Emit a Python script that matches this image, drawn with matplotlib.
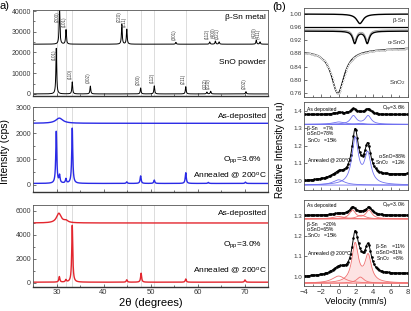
import numpy as np
import matplotlib
matplotlib.use("Agg")
import matplotlib.pyplot as plt
from matplotlib.ticker import MultipleLocator, FormatStrFormatter

plt.rcParams['font.family'] = ['Liberation Sans', 'DejaVu Sans']
plt.rcParams['mathtext.fontset'] = 'custom'
plt.rcParams['mathtext.rm'] = 'Liberation Sans'
plt.rcParams['mathtext.it'] = 'Liberation Sans:italic'
plt.rcParams['mathtext.bf'] = 'Liberation Sans:bold'

# ================= (a) XRD data =================
two_theta_range = [25, 75]
ref_lines = [30.0, 32.0, 33.35, 44.95, 47.9, 50.8, 57.5]

sn_base = 24000
sn_pos = [30.64, 32.02, 43.9, 44.95, 55.4, 62.6, 63.8, 64.6, 72.5, 73.3]
sn_int = [18000, 7000, 9500, 7200, 900, 1100, 1500, 1100, 1900, 1100]
sn_lbl = ['(200)', '(101)', '(220)', '(211)', '(301)', '(112)', '(400)', '(321)', '(420)', '(411)']

sno_base = 0
sno_pos = [29.95, 33.35, 37.2, 47.9, 50.8, 57.5, 62.0, 62.8, 70.3]
sno_int = [22000, 5800, 3800, 2900, 3900, 3500, 900, 1300, 1100]
sno_lbl = ['(101)', '(110)', '(002)', '(200)', '(112)', '(211)', '(022)', '(220)', '(202)']

blue_dep_base = 2380
blue_dep_pos = [30.6]
blue_dep_int = [200]
blue_dep_hw = [0.9]
blue_ann_base = 60
blue_ann_pos = [29.95, 30.65, 32.0, 33.35, 44.95, 47.9, 50.8, 57.5, 62.3, 70.2]
blue_ann_int = [2000, 290, 170, 2130, 60, 290, 130, 415, 40, 50]

red_dep_base = 5000
red_dep_pos = [30.5, 32.0]
red_dep_int = [800, 170]
red_dep_hw = [0.6, 0.5]
red_ann_base = 60
red_ann_pos = [30.6, 32.0, 33.35, 44.95, 48.0, 57.5, 70.1]
red_ann_int = [460, 190, 4740, 200, 750, 270, 190]

# ================= (b) Moessbauer data =================
vel_range = [-4, 8]
bsn_ref_base = 1.0
bsn_ref_c = [2.45]
bsn_ref_d = [0.029]
bsn_ref_w = [0.45]
flat_ref_level = 0.959
asno_ref_base = 0.948
asno_ref_c = [1.85, 3.3]
asno_ref_d = [0.037, 0.037]
asno_ref_w = [0.27, 0.27]
asno_ref2_base = 0.952
asno_ref2_d = [0.031, 0.031]
sno2_ref_base = [0.889, 0.897]
sno2_ref_c = [-0.1]
sno2_ref_d = [0.133]
sno2_ref_w = [0.9]

# Opp = 3.6 %
b_dep_base = 1.378
b_dep_c = [0.0, 1.7, 2.5, 3.4]
b_dep_h = [0.010, 0.030, 0.006, 0.030]
b_dep_w = [0.8, 0.42, 0.5, 0.42]
b_dep_fit_base = 1.322
b_dep_fit_h = [0.014, 0.048, 0.006, 0.048]
b_ann_bg = [1.0, 1.04]
b_ann_c = [0.0, 1.9, 3.35]
b_ann_h = [0.03, 0.26, 0.17]
b_ann_w = [0.8, 0.45, 0.45]
b_ann_fit_base = 0.977

# Opp = 3.0 %
r_dep_base = 1.302
r_dep_c = [0.0, 1.6, 2.6, 3.5]
r_dep_h = [0.008, 0.036, 0.010, 0.036]
r_dep_w = [0.8, 0.42, 0.6, 0.42]
r_dep_fit_base = 1.284
r_dep_fit_h = [0.012, 0.042, 0.018, 0.042]
r_ann_bg = [1.0, 1.015]
r_ann_c = [0.0, 1.9, 2.5, 3.4]
r_ann_h = [0.035, 0.19, 0.03, 0.13]
r_ann_w = [0.9, 0.45, 0.5, 0.45]
r_ann_fit_base = 0.968


def lor(x, c, h, w):
    return h / (1.0 + ((x - c) / w) ** 2)


def pattern(x, base, pos, ints, hws=None, hw=0.1):
    y = np.full_like(x, float(base))
    for i, (p, h) in enumerate(zip(pos, ints)):
        y += lor(x, p, h, hws[i] if hws is not None else hw)
    return y


BLUE = '#2a2ae6'
RED = '#e3262e'
SPINE = '#3a3a3a'

fig = plt.figure(figsize=(4.11, 3.11), dpi=100)
W, H = 411.0, 311.0


def axes_px(l, t, r, b):
    return fig.add_axes([l / W, 1 - b / H, (r - l) / W, (b - t) / H])


axA1 = axes_px(33, 10, 268, 96)
axA2 = axes_px(33, 106.7, 268, 192)
axA3 = axes_px(33, 205, 268, 286.5)
axB1 = axes_px(304, 8, 408, 97)
axB2 = axes_px(304, 101.7, 408, 190)
axB3 = axes_px(304, 200, 408, 286)

tt = np.linspace(two_theta_range[0], two_theta_range[1], 8001)

for ax in (axA1, axA2, axA3):
    ax.set_xlim(*two_theta_range)
    for xl in ref_lines:
        ax.axvline(xl, color='#cfcfcf', lw=0.5, zorder=0)
    ax.xaxis.set_major_locator(MultipleLocator(10))
    ax.xaxis.set_minor_locator(MultipleLocator(5))
    ax.tick_params(which='both', direction='in', width=0.5, colors=SPINE, labelsize=5, pad=1.5)
    ax.tick_params(which='major', length=2.2)
    ax.tick_params(which='minor', length=1.3)
    ax.tick_params(axis='x', labelbottom=False)
    for s in ax.spines.values():
        s.set_linewidth(0.6)
        s.set_color('#555555')
    ax.spines['bottom'].set_linewidth(1.0)
    ax.spines['bottom'].set_color('#333333')
axA3.tick_params(axis='x', labelbottom=True, labelsize=5.5, pad=2)

# ---- top XRD panel
axA1.plot(tt, pattern(tt, sn_base, sn_pos, sn_int), color='k', lw=0.7)
axA1.plot(tt, pattern(tt, sno_base, sno_pos, sno_int), color='k', lw=0.7)
axA1.set_ylim(-1000, 40500)
axA1.yaxis.set_major_locator(MultipleLocator(10000))
axA1.yaxis.set_minor_locator(MultipleLocator(5000))


def peak_labels(ax, base, pos, ints, lbls, cap, gap, length):
    for p, h, l in zip(pos, ints, lbls):
        y = base + h + gap
        if y + length > cap:
            ax.text(p - 0.45, cap, l, rotation=90, fontsize=3.3, color='#444444',
                    ha='center', va='top')
        else:
            ax.text(p - 0.45, y, l, rotation=90, fontsize=3.3, color='#444444',
                    ha='center', va='bottom')


peak_labels(axA1, sn_base, sn_pos, sn_int, sn_lbl, 40000, 1300, 6300)
peak_labels(axA1, sno_base, sno_pos, sno_int, sno_lbl, 21500, 1300, 6300)
axA1.text(0.99, 0.915, 'β-Sn metal', transform=axA1.transAxes, ha='right', va='center', fontsize=6)
axA1.text(0.99, 0.385, 'SnO powder', transform=axA1.transAxes, ha='right', va='center', fontsize=6)

# ---- middle XRD panel
axA2.plot(tt, pattern(tt, blue_dep_base, blue_dep_pos, blue_dep_int, hws=blue_dep_hw), color=BLUE, lw=1.0)
axA2.plot(tt, pattern(tt, blue_ann_base, blue_ann_pos, blue_ann_int, hw=0.13), color=BLUE, lw=1.0)
axA2.set_ylim(-270, 3020)
axA2.yaxis.set_major_locator(MultipleLocator(1000))
axA2.yaxis.set_minor_locator(MultipleLocator(500))
axA2.text(0.995, 0.88, 'As-deposited', transform=axA2.transAxes, ha='right', va='center', fontsize=6)
axA2.text(0.975, 0.375, 'O$_{\\rm pp}$=3.6%', transform=axA2.transAxes, ha='right', va='center', fontsize=6)
axA2.text(0.995, 0.19, 'Annealed @ 200$^{\\rm o}$C', transform=axA2.transAxes, ha='right', va='center', fontsize=6)

# ---- bottom XRD panel
axA3.plot(tt, pattern(tt, red_dep_base, red_dep_pos, red_dep_int, hws=red_dep_hw), color=RED, lw=1.0)
axA3.plot(tt, pattern(tt, red_ann_base, red_ann_pos, red_ann_int, hw=0.13), color=RED, lw=1.0)
axA3.set_ylim(-300, 6500)
axA3.yaxis.set_major_locator(MultipleLocator(2000))
axA3.yaxis.set_minor_locator(MultipleLocator(1000))
axA3.text(0.995, 0.89, 'As-deposited', transform=axA3.transAxes, ha='right', va='center', fontsize=6)
axA3.text(0.975, 0.51, 'O$_{\\rm pp}$=3.0%', transform=axA3.transAxes, ha='right', va='center', fontsize=6)
axA3.text(0.995, 0.19, 'Annealed @ 200$^{\\rm o}$C', transform=axA3.transAxes, ha='right', va='center', fontsize=6)
axA3.set_xlabel('2θ (degrees)', fontsize=8, labelpad=1)

fig.text(5 / W, 1 - 152 / H, 'Intensity (cps)', rotation=90, ha='center', va='center', fontsize=7.5)
fig.text(0 / W, 1 - 6 / H, 'a)', ha='left', va='center', fontsize=8)
fig.text(272 / W, 1 - 7 / H, '(b)', ha='left', va='center', fontsize=8)

# ================= (b) Moessbauer =================
vf = np.linspace(vel_range[0], vel_range[1], 1201)
vd = np.linspace(vel_range[0], vel_range[1], 241)

for ax in (axB1, axB2, axB3):
    ax.set_xlim(*vel_range)
    ax.xaxis.set_major_locator(MultipleLocator(2))
    ax.xaxis.set_minor_locator(MultipleLocator(1))
    ax.tick_params(which='both', direction='in', width=0.5, colors=SPINE, labelsize=4.5, pad=1.5)
    ax.tick_params(which='major', length=2.0)
    ax.tick_params(which='minor', length=1.2)
    ax.tick_params(axis='x', labelbottom=False)
    for s in ax.spines.values():
        s.set_linewidth(0.6)
        s.set_color('#555555')
axB3.tick_params(axis='x', labelbottom=True, labelsize=5.5, pad=2)


def dips(x, base, cs, ds, ws):
    y = np.full_like(x, float(base))
    for c, d, w in zip(cs, ds, ws):
        y -= lor(x, c, d, w)
    return y


def linbg(x, ends):
    return ends[0] + (ends[1] - ends[0]) * (x - x[0]) / (x[-1] - x[0])


def peaks(x, cs, hs, ws):
    y = np.zeros_like(x)
    for c, h, w in zip(cs, hs, ws):
        y += lor(x, c, h, w)
    return y


DATA_KW = dict(color='k', lw=0.7, marker='s', ms=0.8, markevery=3)

# top: reference absorbers
axB1.plot(vf, dips(vf, bsn_ref_base, bsn_ref_c, bsn_ref_d, bsn_ref_w), color='k', lw=1.0)
axB1.plot(vf, np.full_like(vf, flat_ref_level), color='k', lw=0.9)
axB1.plot(vf, dips(vf, asno_ref2_base, asno_ref_c, asno_ref2_d, asno_ref_w), color='#9a9a9a', lw=0.6)
axB1.plot(vf, dips(vf, asno_ref_base, asno_ref_c, asno_ref_d, asno_ref_w), color='k', lw=1.0)
sno2 = linbg(vf, sno2_ref_base) - peaks(vf, sno2_ref_c, sno2_ref_d, sno2_ref_w)
axB1.plot(vf, sno2, color='k', lw=0.8)
sno2d = linbg(vd, sno2_ref_base) - peaks(vd, sno2_ref_c, sno2_ref_d, sno2_ref_w)
axB1.plot(vd, sno2d, ls='none', marker='o', ms=1.0, mfc='white', mec='#888888', mew=0.25, markevery=2)
axB1.set_ylim(0.747, 1.0185)
axB1.yaxis.set_major_locator(MultipleLocator(0.04))
axB1.yaxis.set_major_formatter(FormatStrFormatter('%.2f'))
axB1.text(0.98, 0.865, 'β-Sn', transform=axB1.transAxes, ha='right', va='center', fontsize=4.5, color='#333333')
axB1.text(0.98, 0.61, 'α-SnO', transform=axB1.transAxes, ha='right', va='center', fontsize=4.5, color='#333333')
axB1.text(0.98, 0.16, 'SnO$_2$', transform=axB1.transAxes, ha='right', va='center', fontsize=4.5, color='#333333')

# middle: Opp = 3.6 %
LB = '#7070f0'
axB2.plot(vd, b_dep_base + peaks(vd, b_dep_c, b_dep_h, b_dep_w), **DATA_KW)
axB2.plot(vf, np.full_like(vf, b_dep_fit_base), color=LB, lw=0.6)
for i in (0, 2):
    axB2.plot(vf, b_dep_fit_base + lor(vf, b_dep_c[i], b_dep_fit_h[i], b_dep_w[i]), color=LB, lw=0.6)
axB2.plot(vf, b_dep_fit_base + lor(vf, b_dep_c[1], b_dep_fit_h[1], b_dep_w[1])
          + lor(vf, b_dep_c[3], b_dep_fit_h[3], b_dep_w[3]), color=LB, lw=0.6)
axB2.plot(vd, linbg(vd, b_ann_bg) + peaks(vd, b_ann_c, b_ann_h, b_ann_w), **DATA_KW)
axB2.plot(vf, np.full_like(vf, b_ann_fit_base), color=LB, lw=0.6)
axB2.plot(vf, b_ann_fit_base + lor(vf, b_ann_c[0], b_ann_h[0], b_ann_w[0]), color=LB, lw=0.6)
axB2.plot(vf, b_ann_fit_base + lor(vf, b_ann_c[1], b_ann_h[1], b_ann_w[1])
          + lor(vf, b_ann_c[2], b_ann_h[2], b_ann_w[2]), color=LB, lw=0.6)
axB2.set_ylim(0.949, 1.451)
axB2.yaxis.set_major_locator(MultipleLocator(0.1))
axB2.yaxis.set_major_formatter(FormatStrFormatter('%.1f'))
fs = 3.6
axB2.text(0.03, 0.917, 'As deposited', transform=axB2.transAxes, ha='left', va='center', fontsize=fs)
axB2.text(0.98, 0.917, 'O$_{\\rm pp}$=3.6%', transform=axB2.transAxes, ha='right', va='center', fontsize=fs)
axB2.text(0.03, 0.70, 'β-Sn    =7%', transform=axB2.transAxes, ha='left', va='center', fontsize=fs)
axB2.text(0.03, 0.635, 'α-SnO=78%', transform=axB2.transAxes, ha='left', va='center', fontsize=fs)
axB2.text(0.03, 0.565, 'SnO$_2$   =15%', transform=axB2.transAxes, ha='left', va='center', fontsize=fs)
axB2.text(0.03, 0.33, 'Annealed @ 200$^{\\rm o}$C', transform=axB2.transAxes, ha='left', va='center', fontsize=fs)
axB2.text(0.98, 0.385, 'α-SnO=88%', transform=axB2.transAxes, ha='right', va='center', fontsize=fs)
axB2.text(0.98, 0.315, 'SnO$_2$   =12%', transform=axB2.transAxes, ha='right', va='center', fontsize=fs)

# bottom: Opp = 3.0 %
LR = '#f07070'
axB3.plot(vd, r_dep_base + peaks(vd, r_dep_c, r_dep_h, r_dep_w), **DATA_KW)
axB3.plot(vf, np.full_like(vf, r_dep_fit_base), color=LR, lw=0.6)
for i in (0, 2):
    axB3.plot(vf, r_dep_fit_base + lor(vf, r_dep_c[i], r_dep_fit_h[i], r_dep_w[i]), color=LR, lw=0.6)
axB3.plot(vf, r_dep_fit_base + lor(vf, r_dep_c[1], r_dep_fit_h[1], r_dep_w[1])
          + lor(vf, r_dep_c[3], r_dep_fit_h[3], r_dep_w[3]), color=LR, lw=0.6)
axB3.plot(vd, linbg(vd, r_ann_bg) + peaks(vd, r_ann_c, r_ann_h, r_ann_w), **DATA_KW)
axB3.plot(vf, np.full_like(vf, r_ann_fit_base), color=LR, lw=0.6)
for i in (0, 2):
    axB3.plot(vf, r_ann_fit_base + lor(vf, r_ann_c[i], r_ann_h[i], r_ann_w[i]), color=LR, lw=0.6)
dbl = r_ann_fit_base + lor(vf, r_ann_c[1], r_ann_h[1], r_ann_w[1]) + lor(vf, r_ann_c[3], r_ann_h[3], r_ann_w[3])
axB3.fill_between(vf, r_ann_fit_base, dbl, color='#fde3e3', lw=0, zorder=0)
axB3.plot(vf, dbl, color=LR, lw=0.6)
axB3.set_ylim(0.954, 1.377)
axB3.yaxis.set_major_locator(MultipleLocator(0.1))
axB3.yaxis.set_major_formatter(FormatStrFormatter('%.1f'))
axB3.text(0.03, 0.936, 'As deposited', transform=axB3.transAxes, ha='left', va='center', fontsize=fs)
axB3.text(0.98, 0.936, 'O$_{\\rm pp}$=3.0%', transform=axB3.transAxes, ha='right', va='center', fontsize=fs)
axB3.text(0.03, 0.72, 'β-Sn    =20%', transform=axB3.transAxes, ha='left', va='center', fontsize=fs)
axB3.text(0.03, 0.655, 'α-SnO=65%', transform=axB3.transAxes, ha='left', va='center', fontsize=fs)
axB3.text(0.03, 0.585, 'SnO$_2$   =15%', transform=axB3.transAxes, ha='left', va='center', fontsize=fs)
axB3.text(0.03, 0.37, 'Annealed @ 200$^{\\rm o}$C', transform=axB3.transAxes, ha='left', va='center', fontsize=fs)
axB3.text(0.69, 0.455, 'β-Sn    =11%', transform=axB3.transAxes, ha='left', va='center', fontsize=fs)
axB3.text(0.69, 0.39, 'α-SnO=81%', transform=axB3.transAxes, ha='left', va='center', fontsize=fs)
axB3.text(0.69, 0.32, 'SnO$_2$   =8%', transform=axB3.transAxes, ha='left', va='center', fontsize=fs)
axB3.set_xlabel('Velocity (mm/s)', fontsize=6.5, labelpad=1)

fig.text(280 / W, 1 - 150 / H, 'Relative Intensity (a.u)', rotation=90, ha='center', va='center', fontsize=7)

fig.savefig('out.png', dpi=100)
